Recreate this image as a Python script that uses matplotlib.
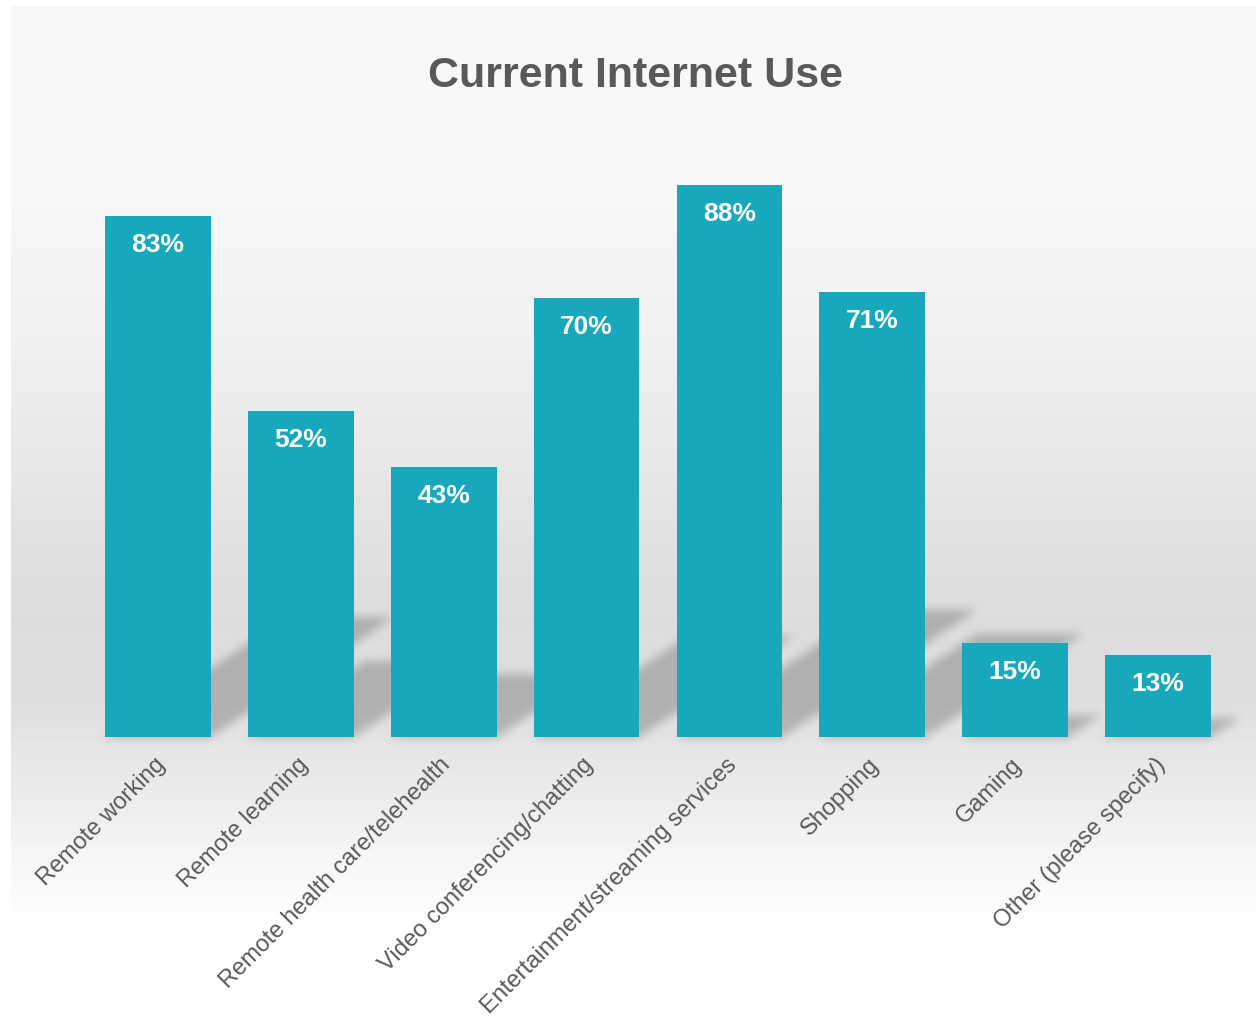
import numpy as np
import matplotlib
matplotlib.use('Agg')
import matplotlib.pyplot as plt
from matplotlib.transforms import ScaledTranslation

plt.rcParams['font.family'] = ['Liberation Sans', 'DejaVu Sans']

# data
categories = ['Remote working', 'Remote learning', 'Remote health care/telehealth',
              'Video conferencing/chatting', 'Entertainment/streaming services',
              'Shopping', 'Gaming', 'Other (please specify)']
values = [83, 52, 43, 70, 88, 71, 15, 13]
title = 'Current Internet Use'

bar_color = '#17A8BC'
text_gray = '#595959'
W, H = 1256, 1033

fig = plt.figure(figsize=(W / 100, H / 100), dpi=100)
fig.patch.set_facecolor('white')

# background panel with vertical gradient (pixel coords)
bg = fig.add_axes([0, 0, 1, 1])
bg.set_xlim(0, W)
bg.set_ylim(H, 0)
bg.axis('off')
stop_y = [6, 170, 340, 450, 560, 620, 700, 740, 800, 850, 900, 925]
stop_v = [248, 248, 240, 232, 223, 220, 222, 228, 236, 245, 251, 255]
rows = np.interp(np.arange(H), stop_y, stop_v)
panel = np.full((H, W), 255.0)
panel[6:926, 11:] = rows[6:926, None]
bg.imshow(panel, cmap='gray', vmin=0, vmax=255, extent=(0, W, H, 0),
          interpolation='nearest', zorder=1, aspect='auto')

# main axes
ax = fig.add_axes([86.5 / W, 296 / H, 1143 / W, 631 / H])
ax.patch.set_alpha(0)
x = np.arange(len(categories))
bw = 0.74
ax.bar(x, values, width=bw, color=bar_color, zorder=3)
ax.set_xlim(-0.5, len(categories) - 0.5)
ax.set_ylim(0, 100.6)
for s in ax.spines.values():
    s.set_visible(False)
ax.set_yticks([])
ax.set_xticks(x)
ax.set_xticklabels(categories, rotation=45, ha='right', rotation_mode='anchor',
                   fontsize=17, color=text_gray)
ax.tick_params(axis='x', length=0, pad=12)
for lbl in ax.get_xticklabels():
    lbl.set_transform(lbl.get_transform() + ScaledTranslation(-4 / 100, 0, fig.dpi_scale_trans))

for xi, v in zip(x, values):
    ax.annotate(f'{v}%', (xi, v), xytext=(0, -29), textcoords='offset pixels',
                ha='center', va='center', color='white', fontsize=19,
                fontweight='bold', zorder=4)

# perspective shadows (diagonal upper right), blurred
mask = np.zeros((H, W))
for xi, v in zip(x, values):
    x0, yb = ax.transData.transform((xi - bw / 2, 0))
    x1, yt = ax.transData.transform((xi + bw / 2, v))
    yb, yt = H - yb, H - yt
    sh = 0.23 * (yb - yt)
    shift = 1.53 * sh
    for r in range(int(yb - sh), int(yb) + 1):
        f = (yb - r) / sh
        a, b = int(x0 + f * shift), int(x1 + f * shift)
        mask[r, max(a, 0):min(b, W)] = 1


def box_blur(img, k, axis):
    pad = [(0, 0), (0, 0)]
    pad[axis] = (k, k)
    p = np.pad(img, pad, mode='edge')
    c = np.cumsum(p, axis=axis)
    c = np.insert(c, 0, 0, axis=axis)
    n = img.shape[axis]
    if axis == 0:
        return (c[2 * k + 1:2 * k + 1 + n] - c[:n]) / (2 * k + 1)
    return (c[:, 2 * k + 1:2 * k + 1 + n] - c[:, :n]) / (2 * k + 1)


for _ in range(3):
    mask = box_blur(mask, 4, 0)
    mask = box_blur(mask, 4, 1)

shadow = np.zeros((H, W, 4))
shadow[..., 3] = mask * 0.21
bg.imshow(shadow, extent=(0, W, H, 0), zorder=2, aspect='auto')

fig.text(635 / W, 1 - 76 / H, title, ha='center', va='center', fontsize=31,
         fontweight='bold', color=text_gray)

fig.savefig('out.png', dpi=100)
